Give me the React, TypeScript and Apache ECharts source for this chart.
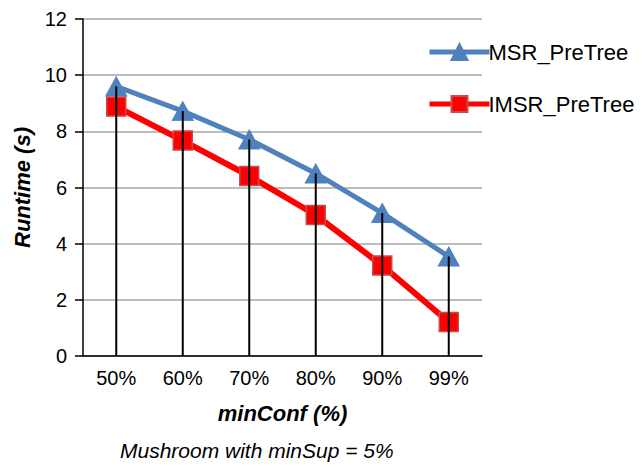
import React, { useEffect, useRef } from "react";
import * as echarts from "echarts";

const categories = ["50%", "60%", "70%", "80%", "90%", "99%"];
const msrValues = [9.6, 8.72, 7.71, 6.5, 5.09, 3.54];
const imsrValues = [8.88, 7.67, 6.41, 5.02, 3.22, 1.21];
const yTicks = { min: 0, max: 12, interval: 2 };

export default function App() {
  const ref = useRef<HTMLDivElement>(null);
  useEffect(() => {
    const chart = echarts.init(ref.current!, null, { renderer: "svg" });
    const font = "Liberation Sans, Arial, Helvetica, sans-serif";
    chart.setOption({
      animation: false,
      textStyle: { fontFamily: font },
      grid: { left: 83, right: 162, top: 19, bottom: 111 },
      legend: {
        data: [
          { name: "MSR_PreTree", lineStyle: { width: 5, color: "#4f81bd" } },
          { name: "IMSR_PreTree", lineStyle: { width: 5, color: "#ff0000" } },
        ],
        orient: "vertical",
        left: 422,
        top: 36,
        itemWidth: 60,
        itemHeight: 20,
        itemGap: 30,
        textStyle: { fontSize: 22, color: "#000", fontFamily: font, padding: [0, 0, 0, -6] },
      },
      xAxis: {
        type: "category",
        data: categories,
        boundaryGap: true,
        axisLine: { lineStyle: { color: "#000", width: 1.5 } },
        axisTick: { show: false },
        axisLabel: { fontSize: 20, color: "#000", margin: 12, fontFamily: font },
        name: "minConf (%)",
        nameLocation: "middle",
        nameGap: 46,
        nameTextStyle: { fontSize: 22, fontWeight: "bold", fontStyle: "italic", color: "#000", fontFamily: font },
      },
      yAxis: {
        type: "value",
        min: yTicks.min,
        max: yTicks.max,
        interval: yTicks.interval,
        axisLine: { show: true, lineStyle: { color: "#000", width: 1.5 } },
        axisTick: { show: true, length: 8, lineStyle: { color: "#000", width: 1.5 } },
        axisLabel: { fontSize: 20, color: "#000", margin: 16, fontFamily: font },
        splitLine: { lineStyle: { color: "#a6a6a6", width: 1.5 } },
        name: "Runtime (s)",
        nameLocation: "middle",
        nameGap: 50,
        nameTextStyle: { fontSize: 22, fontWeight: "bold", fontStyle: "italic", color: "#000", fontFamily: font },
      },
      graphic: [
        {
          type: "text",
          left: 120,
          top: 440,
          style: {
            text: "Mushroom with minSup = 5%",
            fontSize: 21,
            fontStyle: "italic",
            fill: "#000",
            fontFamily: font,
          },
        },
      ],
      series: [
        {
          name: "MSR_PreTree",
          type: "line",
          data: msrValues,
          symbol: "triangle",
          symbolSize: [21, 19],
          lineStyle: { color: "#4f81bd", width: 5 },
          itemStyle: { color: "#4f81bd", borderColor: "#4f81bd", borderWidth: 1 },
          z: 2,
        },
        {
          name: "IMSR_PreTree",
          type: "line",
          data: imsrValues,
          symbol: "rect",
          symbolSize: 19,
          lineStyle: { color: "#ff0000", width: 6 },
          itemStyle: { color: "#ff0000", borderColor: "#c0504d", borderWidth: 1.5 },
          z: 3,
        },
        {
          name: "drop",
          type: "bar",
          data: msrValues,
          barWidth: 2,
          itemStyle: { color: "#000" },
          z: 4,
          silent: true,
        },
      ],
    });
    return () => chart.dispose();
  }, []);
  return <div ref={ref} style={{ width: 644, height: 467, marginLeft: -8, marginTop: -8 }} />;
}
